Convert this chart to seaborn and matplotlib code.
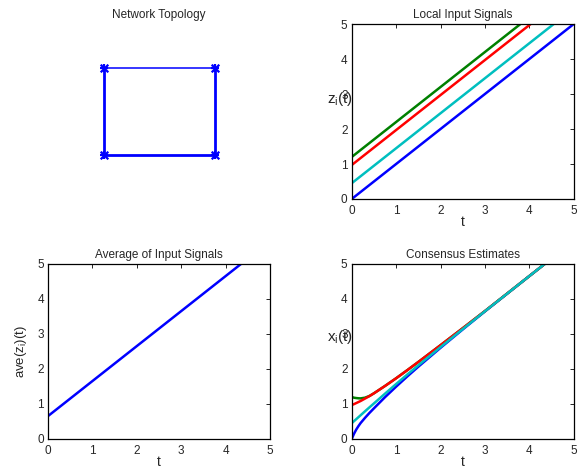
import matplotlib
matplotlib.use("Agg")
import matplotlib.pyplot as plt
import numpy as np
import pandas as pd
import seaborn as sns

# --- data ---
node_x = [0, 1, 1, 0]
node_y = [0, 0, 1, 1]
edges = [(0, 1), (1, 2), (2, 3), (3, 0)]
edge_widths = [2.0, 2.0, 1.1, 2.0]

t_line = [0, 5]
z_blue = [0.0, 5.0]
z_green = [1.2, 6.2]
z_red = [0.97, 5.97]
z_cyan = [0.45, 5.45]
ave_z = [0.655, 5.655]

t_cons = [0, 0.05, 0.1, 0.15, 0.2, 0.3, 0.4, 0.5, 0.75, 1.0, 1.25, 1.5, 2.0, 2.5, 3.0, 4.0, 5.0]
x_blue = [0.0, 0.145, 0.265, 0.365, 0.455, 0.605, 0.745, 0.875, 1.195, 1.495, 1.785,
          2.065, 2.605, 3.13, 3.645, 4.655, 5.655]
x_green = [1.20, 1.18, 1.17, 1.163, 1.16, 1.18, 1.23, 1.305, 1.515, 1.735, 1.965,
           2.20, 2.68, 3.165, 3.655, 4.655, 5.655]
x_red = [0.97, 0.995, 1.025, 1.055, 1.085, 1.155, 1.225, 1.305, 1.515, 1.735, 1.965,
         2.20, 2.68, 3.165, 3.655, 4.655, 5.655]
x_cyan = [0.45, 0.507, 0.564, 0.621, 0.678, 0.792, 0.904, 1.015, 1.295, 1.57, 1.84,
          2.105, 2.625, 3.14, 3.65, 4.655, 5.655]

BLUE = (0, 0, 1)
GREEN = (0, 0.5, 0)
RED = (1, 0, 0)
CYAN = (0, 0.75, 0.75)

sns.set_style("white")
plt.rcParams["font.family"] = ["Liberation Sans", "DejaVu Sans"]
plt.rcParams["mathtext.fontset"] = "custom"
plt.rcParams["mathtext.rm"] = "Liberation Sans"

fig = plt.figure(figsize=(5.8, 4.7), dpi=100)
W, H = 0.3828, 0.3723
ax_net = fig.add_axes([0.0828, 0.5766, W, H])
ax_in = fig.add_axes([0.6064, 0.5766, W, H])
ax_ave = fig.add_axes([0.0828, 0.066, W, H])
ax_con = fig.add_axes([0.6064, 0.066, W, H])

title_kw = dict(fontsize=8.5, pad=4)

# network topology
for (a, b), lw in zip(edges, edge_widths):
    ax_net.plot([node_x[a], node_x[b]], [node_y[a], node_y[b]], color=BLUE, lw=lw)
for m in ["+", "x"]:
    sns.scatterplot(x=node_x, y=node_y, marker=m, s=30, color=BLUE,
                    linewidth=1.6, ax=ax_net, zorder=3)
ax_net.set_xlim(-0.5, 1.5)
ax_net.set_ylim(-0.5, 1.5)
ax_net.axis("off")
ax_net.set_title("Network Topology", **title_kw)


def style_axis(ax):
    ax.set_xlim(0, 5)
    ax.set_ylim(0, 5)
    ax.set_xticks(range(6))
    ax.set_yticks(range(6))
    ax.tick_params(direction="in", length=3, width=0.6, labelsize=8.5,
                   top=True, right=True, color="black")
    ax.tick_params(axis="x", pad=4)
    ax.tick_params(axis="y", pad=3)
    for sp in ax.spines.values():
        sp.set_linewidth(0.9)
        sp.set_color("black")
    ax.set_xlabel("t", fontsize=10, labelpad=-1)


# local input signals
for z, c in [(z_blue, BLUE), (z_green, GREEN), (z_red, RED), (z_cyan, CYAN)]:
    sns.lineplot(x=t_line, y=z, color=c, lw=1.8, ax=ax_in)
style_axis(ax_in)
ax_in.set_title("Local Input Signals", **title_kw)
ax_in.set_ylabel(r"$\mathregular{z_i(t)}$", fontsize=11, rotation=0,
                 ha="right", va="center")
ax_in.yaxis.set_label_coords(0.005, 0.57)

# average of inputs
sns.lineplot(x=t_line, y=ave_z, color=BLUE, lw=1.8, ax=ax_ave)
style_axis(ax_ave)
ax_ave.set_title("Average of Input Signals", **title_kw)
ax_ave.set_ylabel(r"$\mathregular{ave(z_i)(t)}$", fontsize=9.5, labelpad=6)

# consensus estimates
for x, c in [(x_blue, BLUE), (x_green, GREEN), (x_red, RED), (x_cyan, CYAN)]:
    sns.lineplot(x=t_cons, y=x, color=c, lw=1.8, ax=ax_con)
style_axis(ax_con)
ax_con.set_title("Consensus Estimates", **title_kw)
ax_con.set_ylabel(r"$\mathregular{x_i(t)}$", fontsize=11, rotation=0,
                  ha="right", va="center")
ax_con.yaxis.set_label_coords(0.005, 0.58)

fig.savefig("out.png", dpi=100)
